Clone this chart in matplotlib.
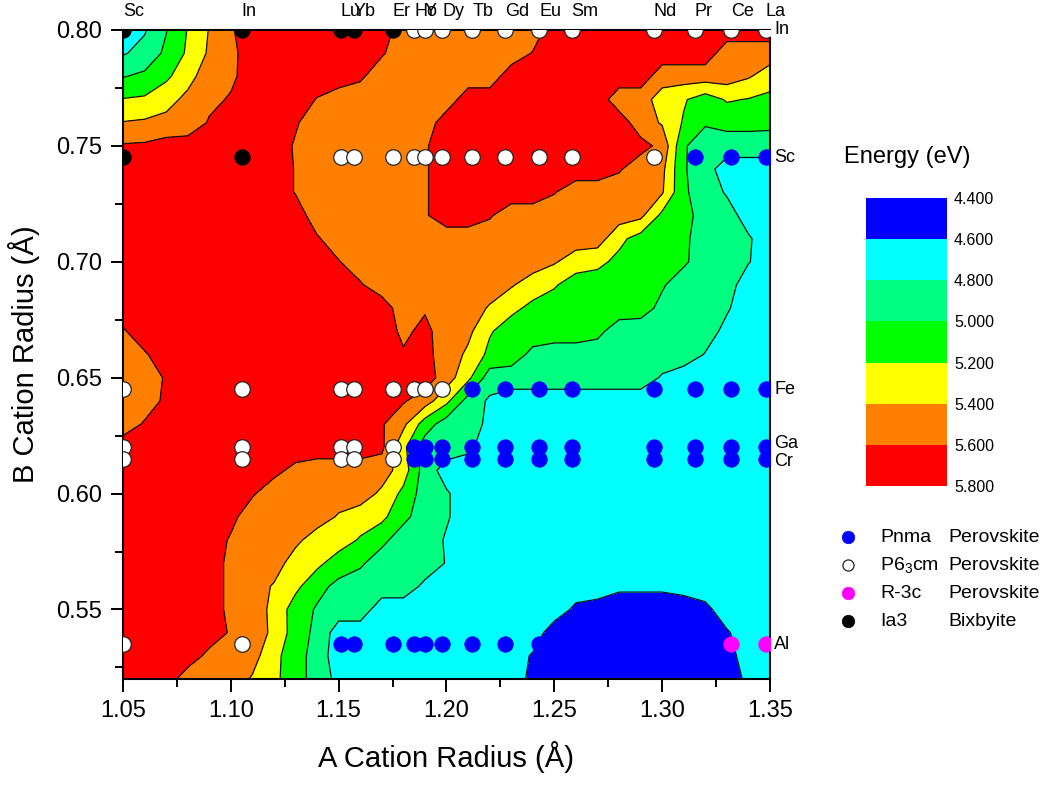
import numpy as np
import matplotlib
matplotlib.use("Agg")
import matplotlib.pyplot as plt
from matplotlib.lines import Line2D
from matplotlib.ticker import MultipleLocator, FormatStrFormatter

plt.rcParams['font.family'] = ['Liberation Sans', 'DejaVu Sans']
plt.rcParams['mathtext.fontset'] = 'custom'
plt.rcParams['mathtext.rm'] = 'Liberation Sans'
plt.rcParams['mathtext.it'] = 'Liberation Sans:italic'

# ---------------- data ----------------
levels = [4.4, 4.6, 4.8, 5.0, 5.2, 5.4, 5.6, 5.8]
band_colors = ['#0000ff', '#00ffff', '#00ff80', '#00ff00', '#ffff00', '#ff8000', '#ff0000']

a_grid = np.round(np.arange(1.05, 1.3501, 0.01), 2)      # A cation radius grid (31)
b_grid = np.round(np.arange(0.80, 0.5199, -0.01), 2)     # B cation radius grid, top -> bottom (29)

energy_rows = [
    [4.62, 4.78, 4.99, 5.21, 5.41, 5.58, 5.7, 5.7, 5.7, 5.7, 5.7, 5.7, 5.7, 5.5, 5.5, 5.5, 5.5, 5.5, 5.5, 5.5, 5.7, 5.7, 5.7, 5.7, 5.7, 5.7, 5.7, 5.7, 5.7, 5.7, 5.7],
    [4.78, 4.87, 5.04, 5.23, 5.43, 5.55, 5.7, 5.7, 5.7, 5.7, 5.7, 5.7, 5.62, 5.5, 5.5, 5.5, 5.5, 5.5, 5.5, 5.61, 5.7, 5.7, 5.7, 5.7, 5.7, 5.7, 5.7, 5.7, 5.5, 5.5, 5.5],
    [4.99, 5.04, 5.16, 5.33, 5.51, 5.56, 5.7, 5.7, 5.7, 5.7, 5.7, 5.63, 5.5, 5.5, 5.5, 5.5, 5.5, 5.5, 5.7, 5.7, 5.7, 5.7, 5.7, 5.7, 5.7, 5.5, 5.5, 5.5, 5.5, 5.42, 5.3],
    [5.21, 5.23, 5.33, 5.45, 5.55, 5.62, 5.7, 5.7, 5.7, 5.59, 5.5, 5.5, 5.5, 5.5, 5.5, 5.5, 5.7, 5.7, 5.7, 5.7, 5.7, 5.7, 5.7, 5.5, 5.5, 5.3, 5.22, 5.1, 5.22, 5.19, 5.15],
    [5.41, 5.43, 5.46, 5.47, 5.62, 5.7, 5.7, 5.7, 5.62, 5.5, 5.5, 5.5, 5.5, 5.5, 5.5, 5.7, 5.7, 5.7, 5.7, 5.7, 5.7, 5.7, 5.7, 5.7, 5.5, 5.38, 5.18, 5.02, 5.06, 5.06, 5.05],
    [5.62, 5.63, 5.68, 5.7, 5.7, 5.7, 5.7, 5.7, 5.58, 5.5, 5.5, 5.5, 5.5, 5.5, 5.58, 5.7, 5.7, 5.7, 5.7, 5.7, 5.7, 5.7, 5.7, 5.7, 5.66, 5.55, 5.02, 4.9, 4.9, 4.9, 4.9],
    [5.7, 5.7, 5.7, 5.7, 5.7, 5.7, 5.7, 5.7, 5.59, 5.5, 5.5, 5.5, 5.5, 5.5, 5.58, 5.7, 5.7, 5.7, 5.7, 5.7, 5.7, 5.7, 5.7, 5.62, 5.5, 5.45, 5.02, 4.88, 4.7, 4.7, 4.7],
    [5.7, 5.7, 5.7, 5.7, 5.7, 5.7, 5.7, 5.7, 5.59, 5.5, 5.5, 5.5, 5.5, 5.5, 5.58, 5.7, 5.7, 5.7, 5.7, 5.7, 5.61, 5.5, 5.5, 5.5, 5.5, 5.42, 5.03, 4.9, 4.78, 4.7, 4.7],
    [5.7, 5.7, 5.7, 5.7, 5.7, 5.7, 5.7, 5.7, 5.7, 5.5, 5.5, 5.5, 5.5, 5.5, 5.58, 5.7, 5.7, 5.62, 5.5, 5.5, 5.5, 5.5, 5.5, 5.5, 5.45, 5.15, 5.08, 4.9, 4.88, 4.72, 4.7],
    [5.7, 5.7, 5.7, 5.7, 5.7, 5.7, 5.7, 5.7, 5.7, 5.62, 5.5, 5.5, 5.5, 5.5, 5.5, 5.5, 5.5, 5.5, 5.5, 5.5, 5.5, 5.5, 5.5, 5.25, 5.12, 5.1, 5.04, 4.9, 4.88, 4.82, 4.7],
    [5.7, 5.7, 5.7, 5.7, 5.7, 5.7, 5.7, 5.7, 5.7, 5.7, 5.61, 5.5, 5.5, 5.5, 5.5, 5.5, 5.5, 5.5, 5.5, 5.5, 5.42, 5.3, 5.25, 5.15, 5.1, 5.1, 5.03, 4.9, 4.88, 4.81, 4.7],
    [5.7, 5.7, 5.7, 5.7, 5.7, 5.7, 5.7, 5.7, 5.7, 5.7, 5.7, 5.62, 5.5, 5.5, 5.5, 5.5, 5.5, 5.5, 5.42, 5.3, 5.22, 5.1, 5.1, 5.1, 5.1, 5.02, 4.9, 4.9, 4.88, 4.7, 4.7],
    [5.7, 5.7, 5.7, 5.7, 5.7, 5.7, 5.7, 5.7, 5.7, 5.7, 5.7, 5.7, 5.7, 5.5, 5.58, 5.5, 5.5, 5.38, 5.25, 5.15, 5.1, 5.1, 5.1, 5.1, 5.08, 4.95, 4.9, 4.9, 4.82, 4.7, 4.7],
    [5.58, 5.7, 5.7, 5.7, 5.7, 5.7, 5.7, 5.7, 5.7, 5.7, 5.7, 5.7, 5.7, 5.56, 5.65, 5.5, 5.45, 5.22, 5.1, 5.1, 5.1, 5.1, 5.05, 4.9, 4.9, 4.9, 4.9, 4.88, 4.75, 4.7, 4.7],
    [5.5, 5.58, 5.7, 5.7, 5.7, 5.7, 5.7, 5.7, 5.7, 5.7, 5.7, 5.7, 5.7, 5.62, 5.65, 5.52, 5.36, 5.15, 5.1, 4.95, 4.9, 4.9, 4.9, 4.9, 4.9, 4.9, 4.9, 4.79, 4.7, 4.7, 4.7],
    [5.5, 5.5, 5.62, 5.7, 5.7, 5.7, 5.7, 5.7, 5.7, 5.7, 5.7, 5.7, 5.7, 5.7, 5.7, 5.5, 5.25, 4.9, 4.9, 4.9, 4.9, 4.9, 4.9, 4.9, 4.9, 4.78, 4.7, 4.7, 4.7, 4.7, 4.7],
    [5.5, 5.5, 5.64, 5.7, 5.7, 5.7, 5.7, 5.7, 5.7, 5.7, 5.7, 5.7, 5.7, 5.62, 5.5, 5.25, 4.92, 4.77, 4.7, 4.7, 4.7, 4.7, 4.7, 4.7, 4.7, 4.7, 4.7, 4.7, 4.7, 4.7, 4.7],
    [5.5, 5.62, 5.7, 5.7, 5.7, 5.7, 5.7, 5.7, 5.7, 5.7, 5.7, 5.7, 5.62, 5.45, 5.1, 4.9, 4.9, 4.75, 4.7, 4.7, 4.7, 4.7, 4.7, 4.7, 4.7, 4.7, 4.7, 4.7, 4.7, 4.7, 4.7],
    [5.7, 5.7, 5.7, 5.7, 5.7, 5.7, 5.7, 5.7, 5.7, 5.7, 5.7, 5.7, 5.64, 5.25, 4.9, 4.9, 4.84, 4.7, 4.7, 4.7, 4.7, 4.7, 4.7, 4.7, 4.7, 4.7, 4.7, 4.7, 4.7, 4.7, 4.7],
    [5.7, 5.7, 5.7, 5.7, 5.7, 5.7, 5.7, 5.65, 5.55, 5.5, 5.5, 5.5, 5.5, 5.3, 4.9, 4.72, 4.7, 4.7, 4.7, 4.7, 4.7, 4.7, 4.7, 4.7, 4.7, 4.7, 4.7, 4.7, 4.7, 4.7, 4.7],
    [5.7, 5.7, 5.7, 5.7, 5.7, 5.7, 5.62, 5.5, 5.5, 5.5, 5.5, 5.5, 5.36, 5.15, 4.9, 4.82, 4.7, 4.7, 4.7, 4.7, 4.7, 4.7, 4.7, 4.7, 4.7, 4.7, 4.7, 4.7, 4.7, 4.7, 4.7],
    [5.7, 5.7, 5.7, 5.7, 5.7, 5.65, 5.5, 5.5, 5.5, 5.5, 5.38, 5.3, 5.25, 5.05, 4.9, 4.82, 4.7, 4.7, 4.7, 4.7, 4.7, 4.7, 4.7, 4.7, 4.7, 4.7, 4.7, 4.7, 4.7, 4.7, 4.7],
    [5.7, 5.7, 5.7, 5.7, 5.7, 5.58, 5.5, 5.5, 5.45, 5.3, 5.3, 5.18, 5.05, 4.9, 4.9, 4.78, 4.7, 4.7, 4.7, 4.7, 4.7, 4.7, 4.7, 4.7, 4.7, 4.7, 4.7, 4.7, 4.7, 4.7, 4.7],
    [5.7, 5.7, 5.7, 5.7, 5.7, 5.55, 5.5, 5.5, 5.3, 5.25, 5.1, 5.03, 4.9, 4.9, 4.9, 4.79, 4.7, 4.7, 4.7, 4.7, 4.7, 4.7, 4.7, 4.7, 4.7, 4.7, 4.7, 4.7, 4.7, 4.7, 4.7],
    [5.7, 5.7, 5.7, 5.7, 5.7, 5.55, 5.5, 5.38, 5.25, 5.06, 4.95, 4.9, 4.9, 4.9, 4.76, 4.7, 4.7, 4.7, 4.7, 4.7, 4.7, 4.7, 4.7, 4.65, 4.65, 4.65, 4.7, 4.7, 4.7, 4.7, 4.7],
    [5.7, 5.7, 5.7, 5.7, 5.7, 5.55, 5.5, 5.35, 5.1, 4.98, 4.9, 4.9, 4.7, 4.7, 4.7, 4.7, 4.7, 4.7, 4.7, 4.7, 4.7, 4.56, 4.52, 4.45, 4.45, 4.45, 4.45, 4.55, 4.7, 4.7, 4.7],
    [5.7, 5.7, 5.7, 5.7, 5.7, 5.58, 5.5, 5.36, 5.1, 4.95, 4.7, 4.7, 4.7, 4.7, 4.7, 4.7, 4.7, 4.7, 4.7, 4.7, 4.5, 4.5, 4.5, 4.5, 4.5, 4.5, 4.5, 4.5, 4.58, 4.7, 4.7],
    [5.7, 5.7, 5.7, 5.7, 5.55, 5.5, 5.48, 5.25, 5.1, 4.9, 4.7, 4.7, 4.7, 4.7, 4.7, 4.7, 4.7, 4.7, 4.7, 4.58, 4.5, 4.5, 4.5, 4.5, 4.5, 4.5, 4.5, 4.5, 4.52, 4.7, 4.7],
    [5.7, 5.7, 5.7, 5.5, 5.5, 5.5, 5.38, 5.24, 5.1, 4.9, 4.75, 4.7, 4.7, 4.7, 4.7, 4.7, 4.7, 4.7, 4.7, 4.55, 4.5, 4.5, 4.5, 4.5, 4.5, 4.5, 4.5, 4.5, 4.5, 4.64, 4.7],
]

a_names = ['Sc', 'In', 'Lu', 'Yb', 'Er', 'Ho', 'Y', 'Dy', 'Tb', 'Gd', 'Eu', 'Sm', 'Nd', 'Pr', 'Ce', 'La']
a_radii = [1.050, 1.105, 1.151, 1.157, 1.175, 1.185, 1.190, 1.198, 1.212, 1.227, 1.243, 1.258, 1.296, 1.315, 1.332, 1.348]
b_names = ['In', 'Sc', 'Fe', 'Ga', 'Cr', 'Al']
b_radii = [0.800, 0.745, 0.645, 0.620, 0.615, 0.535]
# phase per A cation: P = Pnma, H = P6_3cm, R = R-3c, I = Ia3, - = none
phase_rows = {
    'In': 'IIIIIHHHHHHHHHHH',
    'Sc': 'IIHHHHHHHHHHHPPP',
    'Fe': 'HHHHHHHHPPPPPPPP',
    'Ga': 'HHHHHPPPPPPPPPPP',
    'Cr': 'HHHHHPPPPPPPPPPP',
    'Al': 'HHPPPPPPPPP---RR',
}
legend_entries = [('Pnma', 'Perovskite', 'P'),
                  (r'P6$_{3}$cm', 'Perovskite', 'H'),
                  ('R-3c', 'Perovskite', 'R'),
                  ('Ia3', 'Bixbyite', 'I')]

phase_style = {
    'P': dict(facecolor='#0000ff', edgecolor='#0000ff', linewidth=0.5),
    'H': dict(facecolor='white', edgecolor='#222222', linewidth=0.9),
    'R': dict(facecolor='#ff00ff', edgecolor='#ff00ff', linewidth=0.5),
    'I': dict(facecolor='black', edgecolor='black', linewidth=0.5),
}
# small vertical nudges (points) so the close Ga / Cr labels read as in the figure
b_label_nudge = {'Ga': 2.5, 'Cr': -2.0}

# ---------------- figure ----------------
W, H = 1061, 785
fig = plt.figure(figsize=(W / 100, H / 100), dpi=100)
ax = fig.add_axes([123 / W, 1 - 679 / H, 647 / W, 649 / H])

Z = np.array(energy_rows)[::-1]
Yc = b_grid[::-1]
cf = ax.contourf(a_grid, Yc, Z, levels=levels, colors=band_colors)
ax.contour(a_grid, Yc, Z, levels=levels[1:-1], colors='#111111', linewidths=0.9)

for b_name, b_r in zip(b_names, b_radii):
    codes = phase_rows[b_name]
    for a_r, code in zip(a_radii, codes):
        if code in phase_style:
            st = phase_style[code]
            ax.scatter([a_r], [b_r], s=125, zorder=5, facecolors=st['facecolor'],
                       edgecolors=st['edgecolor'], linewidths=st['linewidth'])

ax.set_xlim(1.05, 1.35)
ax.set_ylim(0.52, 0.80)
ax.xaxis.set_major_locator(MultipleLocator(0.05))
ax.xaxis.set_minor_locator(MultipleLocator(0.025))
ax.yaxis.set_major_locator(MultipleLocator(0.05))
ax.yaxis.set_minor_locator(MultipleLocator(0.025))
ax.xaxis.set_major_formatter(FormatStrFormatter('%.2f'))
ax.yaxis.set_major_formatter(FormatStrFormatter('%.2f'))
ax.tick_params(which='both', direction='out', top=False, right=False, width=1.4)
ax.tick_params(which='major', length=9, labelsize=17, pad=6)
ax.tick_params(which='minor', length=6)
for sp in ax.spines.values():
    sp.set_linewidth(1.5)

ax.set_xlabel('A Cation Radius (Å)', fontsize=21, labelpad=14)
ax.set_ylabel('B Cation Radius (Å)', fontsize=21, labelpad=12)

# cation labels
for name, r in zip(a_names, a_radii):
    ax.annotate(name, xy=(r, 1), xycoords=('data', 'axes fraction'), xytext=(0, 7),
                textcoords='offset points', ha='left', va='bottom', fontsize=13)
for name, r in zip(b_names, b_radii):
    ax.annotate(name, xy=(1, r), xycoords=('axes fraction', 'data'),
                xytext=(3, b_label_nudge.get(name, 0)),
                textcoords='offset points', ha='left', va='center', fontsize=13)

# colour bar
cax = fig.add_axes([866 / W, 1 - 486 / H, 81 / W, 288 / H])
cb = fig.colorbar(cf, cax=cax, ticks=levels)
cax.invert_yaxis()
cb.outline.set_visible(False)
cax.yaxis.set_major_formatter(FormatStrFormatter('%.3f'))
cax.tick_params(length=0, labelsize=11.5, pad=5)
fig.text(907 / W, 1 - 157 / H, 'Energy (eV)', ha='center', va='center', fontsize=17)

# legend
for k, (name, kind, code) in enumerate(legend_entries):
    yy = 1 - (537 + 28 * k) / H
    st = phase_style[code]
    fig.add_artist(Line2D([848 / W], [yy], transform=fig.transFigure, marker='o',
                          markersize=9 if code != 'H' else 8, linestyle='none',
                          markerfacecolor=st['facecolor'], markeredgecolor=st['edgecolor'],
                          markeredgewidth=st['linewidth']))
    fig.text(880 / W, yy, name, ha='left', va='center', fontsize=14)
    fig.text(948 / W, yy, kind, ha='left', va='center', fontsize=14)

fig.savefig('out.png', dpi=100)
